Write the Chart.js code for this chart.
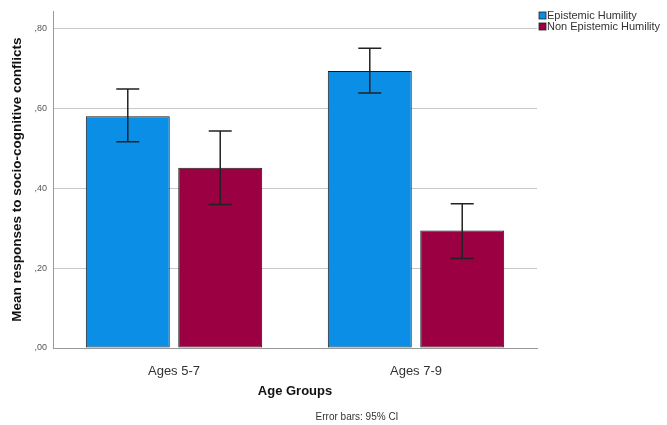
<!DOCTYPE html>
<html>
<head>
<meta charset="utf-8">
<script src="https://cdn.jsdelivr.net/npm/chart.js@4"></script>
<style>
  body { margin: 0; background: #fff; }
</style>
</head>
<body>
<canvas id="ageChart" width="667" height="425"></canvas>
<script>
// values (means with 95% CI)
const categories = ['Ages 5-7', 'Ages 7-9'];
const humilityMeans = [0.580, 0.693];
const humilityLow = [0.516, 0.638];
const humilityHigh = [0.648, 0.750];
const nonHumilityMeans = [0.451, 0.294];
const nonHumilityLow = [0.359, 0.224];
const nonHumilityHigh = [0.543, 0.361];
const yTicks = [0, 0.2, 0.4, 0.6, 0.8];

const FONT = "'Liberation Sans', Arial, sans-serif";
const BLUE = '#0b8ee6';
const MAROON = '#9b0042';

// whiskers for the confidence intervals
const errorBars = {
    id: 'errorBars',
    afterDatasetsDraw(chart) {
        const ctx = chart.ctx;
        const y = chart.scales.y;
        ctx.save();
        ctx.strokeStyle = '#222';
        ctx.lineWidth = 1.5;
        chart.data.datasets.forEach(function(ds, i) {
            chart.getDatasetMeta(i).data.forEach(function(bar, j) {
                const top = y.getPixelForValue(ds.high[j]);
                const bot = y.getPixelForValue(ds.low[j]);
                ctx.beginPath();
                ctx.moveTo(bar.x, top); ctx.lineTo(bar.x, bot);
                ctx.moveTo(bar.x - 11.5, top); ctx.lineTo(bar.x + 11.5, top);
                ctx.moveTo(bar.x - 11.5, bot); ctx.lineTo(bar.x + 11.5, bot);
                ctx.stroke();
            });
        });
        ctx.restore();
    }
};

// legend top right + footnote
const extras = {
    id: 'extras',
    afterDraw(chart) {
        const ctx = chart.ctx;
        ctx.save();
        ctx.font = '11px ' + FONT;
        ctx.textBaseline = 'middle';
        chart.data.datasets.forEach(function(ds, i) {
            const yy = 15.5 + i * 11;
            ctx.fillStyle = ds.backgroundColor;
            ctx.fillRect(539, yy - 3.5, 7, 7);
            ctx.strokeStyle = '#222';
            ctx.lineWidth = 0.8;
            ctx.strokeRect(539, yy - 3.5, 7, 7);
            ctx.fillStyle = '#333';
            ctx.fillText(ds.label, 547, yy);
        });
        ctx.font = '10px ' + FONT;
        ctx.textAlign = 'center';
        ctx.fillStyle = '#333';
        ctx.fillText('Error bars: 95% CI', 357, 417);
        ctx.restore();
    }
};

const ctx = document.getElementById('ageChart').getContext('2d');
const ageChart = new Chart(ctx, {
    type: 'bar',
    data: {
        labels: categories,
        datasets: [{
            label: 'Epistemic Humility',
            data: humilityMeans,
            low: humilityLow,
            high: humilityHigh,
            backgroundColor: BLUE,
            borderColor: '#1a1a1a',
            borderWidth: 1,
            borderSkipped: false
        }, {
            label: 'Non Epistemic Humility',
            data: nonHumilityMeans,
            low: nonHumilityLow,
            high: nonHumilityHigh,
            backgroundColor: MAROON,
            borderColor: '#1a1a1a',
            borderWidth: 1,
            borderSkipped: false
        }]
    },
    options: {
        responsive: false,
        animation: false,
        categoryPercentage: 0.764,
        barPercentage: 0.908,
        layout: { padding: { top: 10, right: 130, left: 0, bottom: 0 } },
        plugins: {
            legend: { display: false },
            tooltip: { enabled: false }
        },
        scales: {
            x: {
                grid: { display: false },
                border: { color: '#999' },
                ticks: { color: '#333', padding: 8, font: { family: FONT, size: 13 } },
                title: {
                    display: true,
                    text: 'Age Groups',
                    color: '#111',
                    font: { family: FONT, size: 13, weight: 'bold' },
                    padding: { top: 0, bottom: 26 }
                },
                afterFit: function(scale) { scale.height = 77; }
            },
            y: {
                min: 0,
                max: 0.842,
                afterBuildTicks: function(axis) {
                    axis.ticks = yTicks.map(function(v) { return { value: v }; });
                },
                grid: { color: '#c8c8c8', drawTicks: false },
                border: { color: '#999' },
                ticks: {
                    color: '#555',
                    padding: 6,
                    font: { family: FONT, size: 9 },
                    callback: function(v) { return v.toFixed(2).replace('0.', ','); }
                },
                title: {
                    display: true,
                    text: 'Mean responses to socio-cognitive conflicts',
                    color: '#111',
                    font: { family: FONT, size: 13.5, weight: 'bold' },
                    padding: { top: 9, bottom: 0 }
                },
                afterFit: function(scale) { scale.width = 53; }
            }
        }
    },
    plugins: [errorBars, extras]
});
</script>
</body>
</html>
